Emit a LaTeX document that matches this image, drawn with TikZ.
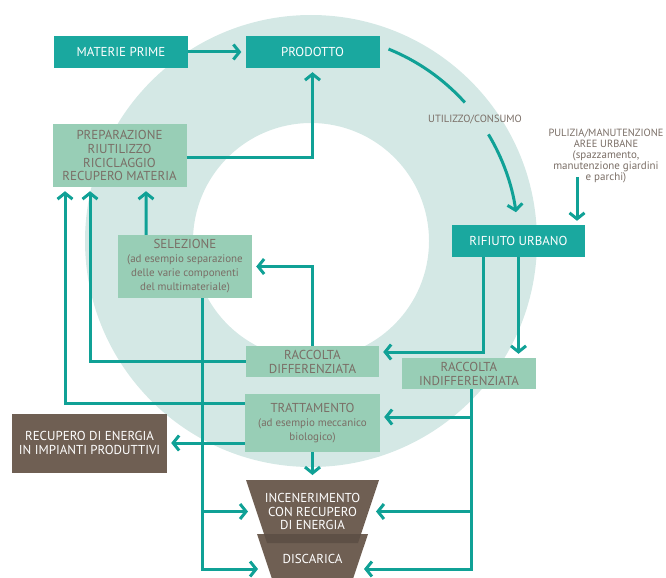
\documentclass[tikz,border=0pt]{standalone}
\usepackage{fontspec}
\setmainfont{PT Sans}
\usetikzlibrary{arrows.meta,calc}
\definecolor{ringteal}{HTML}{D4E8E5}
\definecolor{boxteal}{HTML}{1AA89F}
\definecolor{flowteal}{HTML}{10A196}
\definecolor{boxgreen}{HTML}{98CEB6}
\definecolor{boxbrown}{HTML}{6F5F53}
\definecolor{shadebrown}{HTML}{5E5046}
\definecolor{textgray}{HTML}{7A6E66}
\newcommand{\smtxt}{\fontsize{11}{12.5}\selectfont}

\begin{document}
\begin{tikzpicture}[
    x=1bp, y=-1bp,
    tealbox/.style={
        fill=boxteal,
        text=white,
        minimum width=134bp,
        minimum height=32bp,
        inner sep=0pt,
        align=center,
        font=\fontsize{13}{14}\selectfont
    },
    greenbox/.style={
        fill=boxgreen,
        text=textgray,
        minimum width=134bp,
        minimum height=31bp,
        inner sep=0pt,
        align=center,
        font=\fontsize{13}{14}\selectfont
    },
    brownbox/.style={
        fill=boxbrown,
        text=white,
        minimum width=155bp,
        minimum height=59bp,
        inner sep=0pt,
        align=center,
        font=\fontsize{13}{14}\selectfont
    },
    funneltext/.style={
        text=white,
        inner sep=0pt,
        align=center,
        font=\fontsize{13}{14}\selectfont
    },
    note/.style={
        text=textgray,
        inner sep=0pt,
        align=center,
        font=\fontsize{10.5}{11}\selectfont
    },
    flowline/.style={draw=flowteal, line width=3bp},
    flow/.style={flowline, -{Straight Barb[length=6bp,width=15bp]}, shorten >=4bp}
]
    \clip (0,0) rectangle (666,578);

    % ring in the background
    \coordinate (ctr) at (311,241);
    \fill[ringteal, even odd rule] (ctr) circle[radius=226] (ctr) circle[radius=118];

    \node[tealbox] (materie) at (121,52) {MATERIE PRIME};
    \node[tealbox] (prodotto) at (312.5,52) {PRODOTTO};
    \node[greenbox, minimum height=63bp] (prep) at (119.5,155.5)
        {PREPARAZIONE\\RIUTILIZZO\\RICICLAGGIO\\RECUPERO MATERIA};
    \node[tealbox, minimum width=133bp] (rifiuto) at (518.5,241) {RIFIUTO URBANO};
    \node[greenbox, minimum height=63bp] (sel) at (185,266.5)
        {SELEZIONE\\\smtxt (ad esempio separazione\\\smtxt delle varie componenti\\\smtxt del multimateriale)};
    \node[greenbox, minimum width=133bp] (diff) at (312.5,361.5) {RACCOLTA\\DIFFERENZIATA};
    \node[greenbox] (indiff) at (469,373.5) {RACCOLTA\\INDIFFERENZIATA};
    \node[greenbox, minimum width=135bp, minimum height=58bp] (tratt) at (312.5,423)
        {TRATTAMENTO\\\smtxt (ad esempio meccanico\\\smtxt biologico)};
    \node[brownbox] (recen) at (89.5,443) {RECUPERO DI ENERGIA\\IN IMPIANTI PRODUTTIVI};

    % funnel: incineration over landfill
    \fill[boxbrown] (257,534) -- (368,534) -- (349.3,590) -- (275.7,590) -- cycle;
    \fill[boxbrown] (246,480) -- (379,480) -- (358,543) -- (267,543) -- cycle;
    \fill[shadebrown] (264,534) -- (361,534) -- (358,543) -- (267,543) -- cycle;
    \node[funneltext] (inc) at (312.5,511.5) {INCENERIMENTO\\CON RECUPERO\\DI ENERGIA};
    \node[funneltext] (disc) at (312.5,559) {DISCARICA};

    \node[note] (uso) at (475,120) {UTILIZZO/CONSUMO};
    \node[note] (pulizia) at (606,156)
        {PULIZIA/MANUTENZIONE\\AREE URBANE\\\smtxt (spazzamento,\\\smtxt manutenzione giardini\\\smtxt e parchi)};

    % main cycle
    \draw[flow] (materie) -- (prodotto);
    \draw[flow] ($(prep.east)+(0,2.5)$) -| (prodotto.south);
    \draw[flowline] ($(ctr)+(-68:207)$) arc[start angle=-68, end angle=-42, radius=207];
    \draw[flow, shorten >=0bp] ($(ctr)+(-31:207)$) arc[start angle=-31, end angle=-8, radius=207];
    \draw[flow] ($(rifiuto.north)+(58.5,-48)$) -- ($(rifiuto.north)+(58.5,0)$);

    % collection
    \draw[flow] ($(rifiuto.south)+(-35.5,0)$) |- ($(diff.east)+(0,-9.5)$);
    \draw[flow] (rifiuto.south) -- (rifiuto.south |- indiff.north);
    \draw[flow] (diff.north) |- (sel.east);
    \draw[flow] ($(sel.north)+(-39,0)$) -- ($(prep.south)+(26.5,0)$);
    \draw[flow] (diff.west) -| ($(prep.south)+(-29.5,0)$);
    \draw[flow] ($(tratt.west)+(0,-20)$) -| ($(prep.south)+(-54.5,0)$);
    \draw[flow] ($(tratt.west)+(0,20)$) -- (recen.east);
    \draw[flow, shorten >=0bp] (tratt.south) -- ($(inc.center)+(0,-36.5)$);

    % to incineration and landfill
    \coordinate (selout) at ($(sel.south)+(17,0)$);
    \coordinate (indout) at ($(indiff.south)+(2,0)$);
    \coordinate (trattin) at ($(tratt.east)+(0,-6)$);
    \draw[flow, shorten >=0bp] (selout) |- ($(disc.center)+(-54.5,10)$);
    \draw[flow, shorten >=0bp] (selout |- inc.center) -- ($(inc.center)+(-64.5,0)$);
    \draw[flow, shorten >=0bp] (indout) |- ($(disc.center)+(51.5,10)$);
    \draw[flow, shorten >=0bp] (indout |- inc.center) -- ($(inc.center)+(63.5,0)$);
    \draw[flow] (indout |- trattin) -- (trattin);
\end{tikzpicture}
\end{document}
